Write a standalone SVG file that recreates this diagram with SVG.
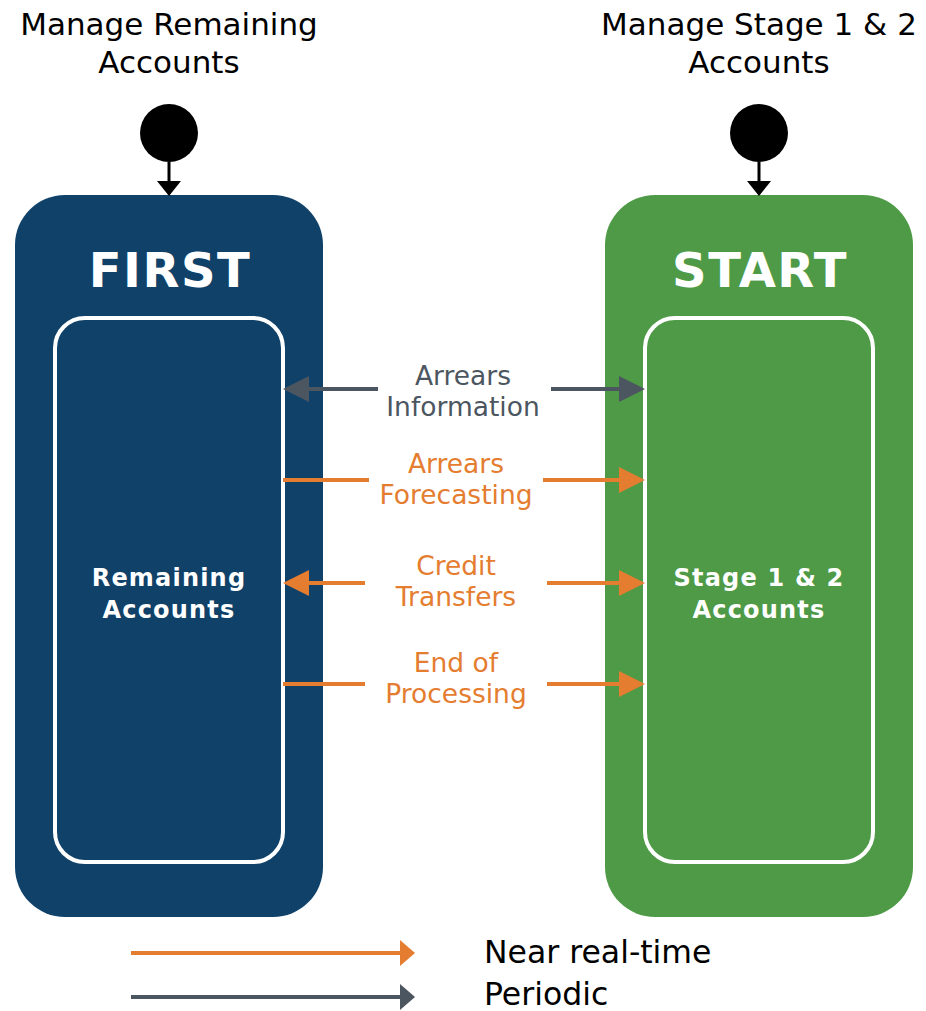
<svg xmlns="http://www.w3.org/2000/svg" width="926" height="1011" viewBox="0 0 926 1011">
<style>
text{font-family:"DejaVu Sans",Verdana,sans-serif;text-anchor:middle}
.top{font-size:31px;fill:#000}
.title{font-size:48px;font-weight:bold;fill:#fff;letter-spacing:1.5px}
.inner{font-size:24px;font-weight:bold;fill:#fff;letter-spacing:1.2px}
.lbl{font-size:26.5px}
.og{fill:#e47d30}
.gy{fill:#4c5660}
.lo{stroke:#e47d30;stroke-width:4;fill:none}
.lg{stroke:#4c5660;stroke-width:4;fill:none}
.leg{font-size:31.5px;fill:#000;text-anchor:start}
</style>
<rect width="926" height="1011" fill="#fff"/>
<g id="first">
<text class="top" x="169" y="35">Manage Remaining</text>
<text class="top" x="169" y="73">Accounts</text>
<circle cx="169" cy="133" r="29" fill="#000"/>
<rect x="15" y="195" width="308" height="722" rx="50" fill="#0f4169"/>
<text class="title" x="170" y="287">FIRST</text>
<rect x="55" y="318" width="228" height="544" rx="30" fill="none" stroke="#fff" stroke-width="4"/>
<text class="inner" x="169" y="586">Remaining</text>
<text class="inner" x="169" y="618">Accounts</text>
</g>
<g id="start">
<text class="top" x="759" y="35">Manage Stage 1 &amp; 2</text>
<text class="top" x="759" y="73">Accounts</text>
<circle cx="759" cy="133" r="29" fill="#000"/>
<rect x="605" y="195" width="308" height="722" rx="50" fill="#4e9a47"/>
<text class="title" x="760" y="287">START</text>
<rect x="645" y="318" width="228" height="544" rx="30" fill="none" stroke="#fff" stroke-width="4"/>
<text class="inner" x="759" y="586">Stage 1 &amp; 2</text>
<text class="inner" x="759" y="618">Accounts</text>
</g>
<g id="connectors">
<line x1="169" y1="162" x2="169" y2="184" stroke="#000" stroke-width="3"/>
<polygon points="157,181 181,181 169,196" fill="#000"/>
<line x1="759" y1="162" x2="759" y2="184" stroke="#000" stroke-width="3"/>
<polygon points="747,181 771,181 759,196" fill="#000"/>

<line class="lg" x1="378" y1="389" x2="305" y2="389"/>
<polygon points="283,389 309,376 309,402" fill="#4c5660"/>
<line class="lg" x1="551" y1="389" x2="622" y2="389"/>
<polygon points="645,389 619,376 619,402" fill="#4c5660"/>

<line class="lo" x1="283" y1="480" x2="369" y2="480"/>
<line class="lo" x1="543" y1="480" x2="622" y2="480"/>
<polygon points="645,480 619,467 619,493" fill="#e47d30"/>

<line class="lo" x1="365" y1="583" x2="305" y2="583"/>
<polygon points="283,583 309,570 309,596" fill="#e47d30"/>
<line class="lo" x1="547" y1="583" x2="622" y2="583"/>
<polygon points="645,583 619,570 619,596" fill="#e47d30"/>

<line class="lo" x1="283" y1="684" x2="365" y2="684"/>
<line class="lo" x1="547" y1="684" x2="622" y2="684"/>
<polygon points="645,684 619,671 619,697" fill="#e47d30"/>
</g>
<g id="labels">
<text class="lbl gy" x="463" y="385">Arrears</text>
<text class="lbl gy" x="463" y="416">Information</text>
<text class="lbl og" x="456" y="473">Arrears</text>
<text class="lbl og" x="456" y="504">Forecasting</text>
<text class="lbl og" x="456" y="575">Credit</text>
<text class="lbl og" x="456" y="606">Transfers</text>
<text class="lbl og" x="456" y="672">End of</text>
<text class="lbl og" x="456" y="703">Processing</text>
</g>
<g id="legend">
<line class="lo" x1="131" y1="953" x2="402" y2="953"/>
<polygon points="415,953 400,940 400,966" fill="#e47d30"/>
<line class="lg" x1="131" y1="997" x2="402" y2="997"/>
<polygon points="415,997 400,984 400,1010" fill="#4c5660"/>
<text class="leg" x="484" y="963">Near real-time</text>
<text class="leg" x="484" y="1005">Periodic</text>
</g>
</svg>
